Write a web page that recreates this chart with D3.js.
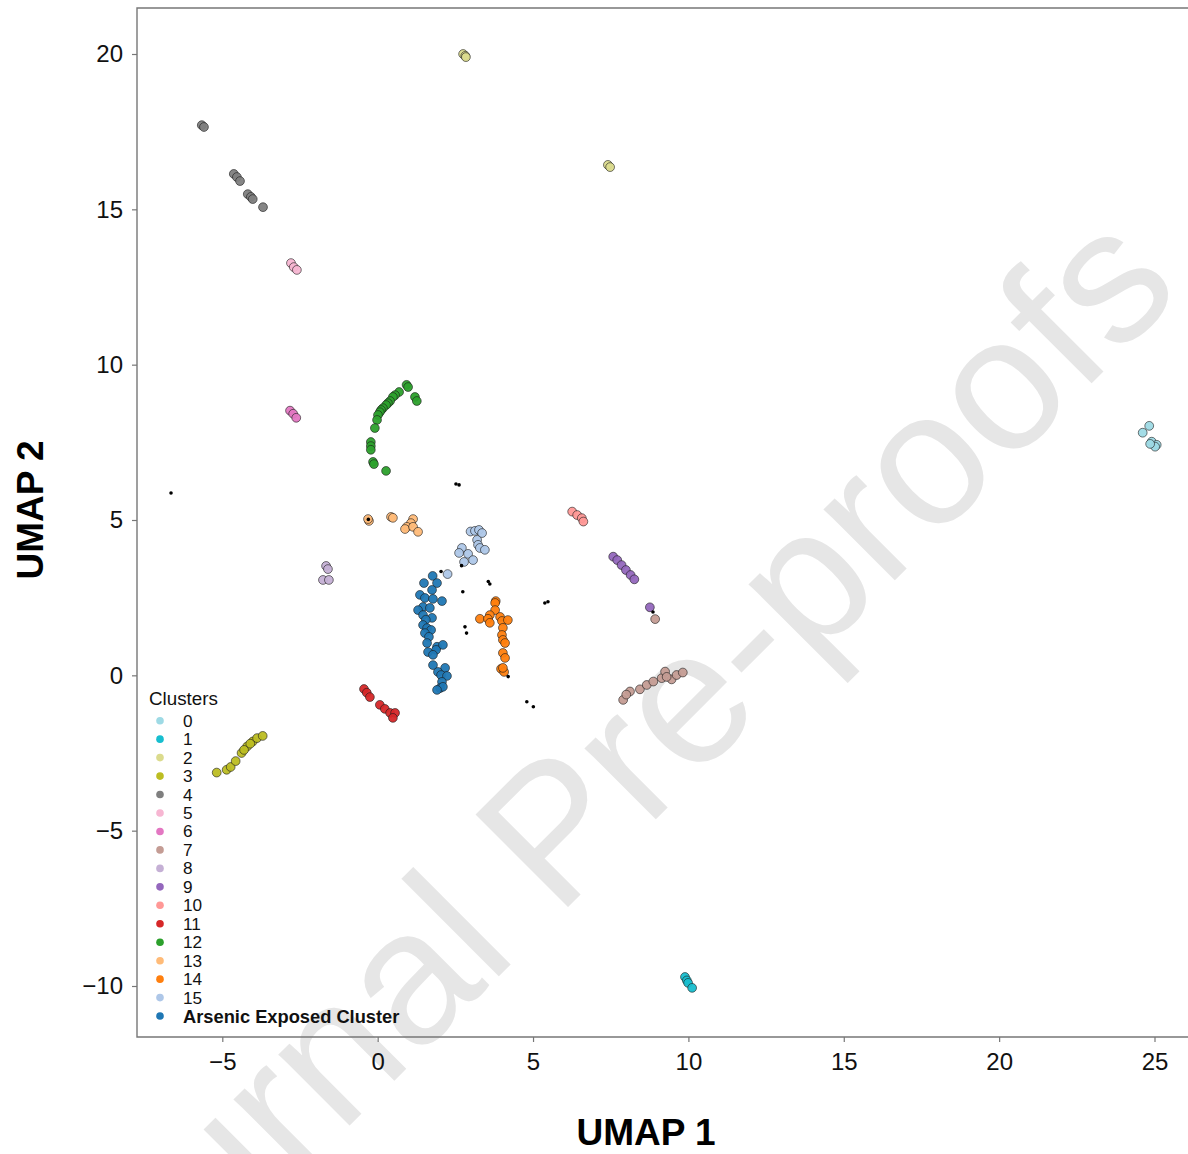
<!DOCTYPE html>
<html>
<head>
<meta charset="utf-8">
<script src="https://cdn.jsdelivr.net/npm/d3@7"></script>
<style>
  html, body { margin: 0; padding: 0; background: #fff; }
  svg { display: block; font-family: "Liberation Sans", Arial, Helvetica, sans-serif; }
</style>
</head>
<body>
<svg id="chart" width="1188" height="1154"></svg>
<script>
// ---------------- data ----------------
const clusterLabels = ["0","1","2","3","4","5","6","7","8","9","10","11","12","13","14","15","Arsenic Exposed Cluster"];
const clusterColors = ["#9edae5","#17becf","#dbdb8d","#bcbd22","#7f7f7f","#f7b6d2","#e377c2","#c49c94",
                       "#c5b0d5","#9467bd","#ff9896","#d62728","#2ca02c","#ffbb78","#ff7f0e","#aec7e8","#1f77b4"];
const xTicks = [-5, 0, 5, 10, 15, 20, 25];
const yTicks = [-10, -5, 0, 5, 10, 15, 20];

const cluster0 = [[24.83,8.03],[24.62,7.81],[24.91,7.52],[25.07,7.42],[25.02,7.36],[24.86,7.45]];
const cluster1 = [[9.89,-9.71],[9.95,-9.82],[9.99,-9.90],[10.12,-10.06]];
const cluster2 = [[2.75,20.0],[2.82,19.94],[2.84,19.90],[7.41,16.43],[7.48,16.36]];
const cluster3 = [[-5.18,-3.13],[-4.86,-3.04],[-4.73,-2.95],[-4.57,-2.76],[-4.38,-2.50],[-4.20,-2.29],
                  [-4.02,-2.13],[-3.88,-2.02],[-3.70,-1.95],[-4.30,-2.40],[-4.10,-2.20]];
const cluster4 = [[-5.66,17.71],[-5.59,17.65],[-4.63,16.14],[-4.53,16.04],[-4.43,15.91],
                  [-4.18,15.49],[-4.08,15.40],[-4.02,15.33],[-3.69,15.07]];
const cluster5 = [[-2.79,13.27],[-2.70,13.14],[-2.60,13.05]];
const cluster6 = [[-2.82,8.52],[-2.72,8.42],[-2.62,8.29]];
const cluster7 = [[8.93,1.81],[7.90,-0.79],[8.12,-0.52],[8.44,-0.45],[8.66,-0.31],[8.87,-0.20],
                  [9.14,-0.09],[9.25,0.12],[9.46,-0.13],[9.62,0.01],[9.82,0.09],[8.00,-0.62],[9.30,-0.05]];
const cluster8 = [[-1.66,3.52],[-1.60,3.42],[-1.76,3.07],[-1.57,3.07]];
const cluster9 = [[7.58,3.82],[7.71,3.71],[7.85,3.55],[7.99,3.39],[8.14,3.23],[8.26,3.09],[8.76,2.19]];
const cluster10 = [[6.26,5.27],[6.42,5.16],[6.57,5.06],[6.62,4.95]];
const cluster11 = [[-0.44,-0.44],[-0.35,-0.56],[-0.25,-0.70],[0.07,-0.95],[0.23,-1.08],
                   [0.40,-1.21],[0.56,-1.21],[0.49,-1.37]];
const cluster12 = [[0.93,9.35],[0.98,9.28],[0.69,9.12],[0.56,9.02],[0.49,8.96],[0.40,8.83],[0.33,8.76],
                   [0.27,8.70],[0.17,8.60],[0.11,8.54],[0.07,8.47],[0.01,8.38],[-0.02,8.22],[-0.09,7.96],
                   [-0.22,7.51],[-0.22,7.38],[-0.22,7.26],[-0.15,6.87],[-0.12,6.80],[0.27,6.58],
                   [1.20,8.96],[1.26,8.83]];
const cluster13 = [[-0.28,4.97],[-0.31,5.03],[0.43,5.10],[0.49,5.07],[1.14,5.03],[1.07,4.90],
                   [0.94,4.78],[0.88,4.71],[1.14,4.78],[1.30,4.62]];
const cluster14 = [[3.80,2.39],[3.78,2.33],[3.78,2.10],[3.61,1.94],[3.29,1.82],[3.55,1.82],[3.61,1.69],
                   [3.94,1.88],[4.00,1.75],[4.19,1.78],[4.03,1.53],[4.00,1.30],[4.03,1.14],[4.10,1.04],
                   [4.03,0.72],[4.10,0.56],[3.97,0.21],[4.07,0.11],[4.03,0.24]];
const cluster15 = [[2.99,4.63],[3.13,4.65],[3.26,4.68],[3.36,4.58],[3.20,4.36],[3.23,4.20],[3.29,4.10],
                   [3.45,4.04],[2.71,4.10],[2.62,3.94],[2.91,3.91],[2.78,3.65],[3.07,3.71],[2.25,3.26]];
const arsenicCluster = [[1.77,3.20],[1.49,2.97],[1.91,2.97],[1.75,2.75],[1.36,2.59],[1.52,2.49],[1.78,2.46],
                   [2.07,2.39],[1.46,2.20],[1.68,2.17],[1.30,2.10],[1.46,1.94],[1.75,1.85],[1.55,1.79],
                   [1.46,1.62],[1.59,1.52],[1.72,1.46],[1.52,1.36],[1.65,1.24],[1.59,1.04],[1.91,0.92],
                   [2.10,0.98],[1.88,0.82],[1.62,0.75],[1.78,0.66],[1.78,0.33],[2.17,0.24],[1.94,0.11],
                   [2.04,0.01],[2.23,-0.02],[2.07,-0.21],[2.01,-0.41],[2.10,-0.37],[1.91,-0.47]];
const unassignedPoints = [[-6.65,5.87],[2.52,6.16],[2.62,6.13],[2.04,3.34],[2.70,3.53],[2.74,2.69],
                   [3.56,3.02],[3.61,2.94],[2.81,1.56],[2.86,1.36],[5.38,2.33],[5.48,2.37],
                   [4.20,-0.04],[4.80,-0.85],[5.01,-1.01],[8.86,2.04],[-0.30,5.02]];

const allClusters = [cluster0,cluster1,cluster2,cluster3,cluster4,cluster5,cluster6,cluster7,cluster8,
                     cluster9,cluster10,cluster11,cluster12,cluster13,cluster14,cluster15,arsenicCluster];

// ---------------- layout ----------------
const svg = d3.select("#chart");
const plotLeft = 137, plotTop = 8, plotBottom = 1037, plotRight = 1210;

const x = d3.scaleLinear().domain([-5, 25]).range([222.3, 1154.5]);
const y = d3.scaleLinear().domain([-10, 20]).range([986, 54]);

// watermark
svg.append("text")
  .attr("transform", "translate(79,1396) rotate(-45)")
  .attr("text-anchor", "start")
  .attr("font-size", 190)
  .attr("fill", "#e6e6e6")
  .text("Journal Pre-proofs");

// axes
const fmt = d => d < 0 ? "\u2212" + Math.abs(d) : d;
const gx = svg.append("g").attr("transform", `translate(0,${plotBottom})`)
  .call(d3.axisBottom(x).tickValues(xTicks).tickSize(5).tickPadding(11).tickFormat(fmt));
const gy = svg.append("g").attr("transform", `translate(${plotLeft},0)`)
  .call(d3.axisLeft(y).tickValues(yTicks).tickSize(5).tickPadding(9).tickFormat(fmt));
[gx, gy].forEach(g => {
  g.select(".domain").remove();
  g.selectAll(".tick line").attr("stroke", "#777").attr("stroke-width", 1.2);
  g.selectAll(".tick text").attr("font-size", 24).attr("fill", "#111")
    .attr("font-family", "'Liberation Sans', Arial, sans-serif");
});

// spines
svg.append("path")
  .attr("d", `M${plotRight},${plotTop}H${plotLeft}V${plotBottom}H${plotRight}`)
  .attr("fill", "none").attr("stroke", "#777").attr("stroke-width", 1.4);

// points
const gp = svg.append("g");
allClusters.forEach((pts, i) => {
  gp.selectAll(null).data(pts).enter().append("circle")
    .attr("cx", d => x(d[0])).attr("cy", d => y(d[1])).attr("r", 4.4)
    .attr("fill", clusterColors[i]).attr("fill-opacity", 0.95)
    .attr("stroke", "#1a1a1a").attr("stroke-width", 0.7).attr("stroke-opacity", 0.85);
});
gp.selectAll(null).data(unassignedPoints).enter().append("circle")
  .attr("cx", d => x(d[0])).attr("cy", d => y(d[1])).attr("r", 1.8).attr("fill", "#000");

// axis titles
svg.append("text").attr("x", 646).attr("y", 1145).attr("text-anchor", "middle")
  .attr("font-size", 37).attr("font-weight", "bold").attr("fill", "#000").text("UMAP 1");
svg.append("text").attr("transform", "translate(43,510) rotate(-90)").attr("text-anchor", "middle")
  .attr("font-size", 37).attr("font-weight", "bold").attr("fill", "#000").text("UMAP 2");

// legend
const lg = svg.append("g");
lg.append("text").attr("x", 149).attr("y", 705).attr("font-size", 18.8).attr("fill", "#111").text("Clusters");
const step = 18.46, y0 = 720.7;
clusterLabels.forEach((lab, i) => {
  const last = i === clusterLabels.length - 1;
  lg.append("circle").attr("cx", 160).attr("cy", y0 + i * step).attr("r", 3.8).attr("fill", clusterColors[i]);
  lg.append("text").attr("x", 183).attr("y", y0 + i * step + (last ? 6.6 : 6.0))
    .attr("font-size", last ? 18.3 : 17.2).attr("fill", "#111")
    .attr("font-weight", last ? "bold" : "normal").text(lab);
});
</script>
</body>
</html>
